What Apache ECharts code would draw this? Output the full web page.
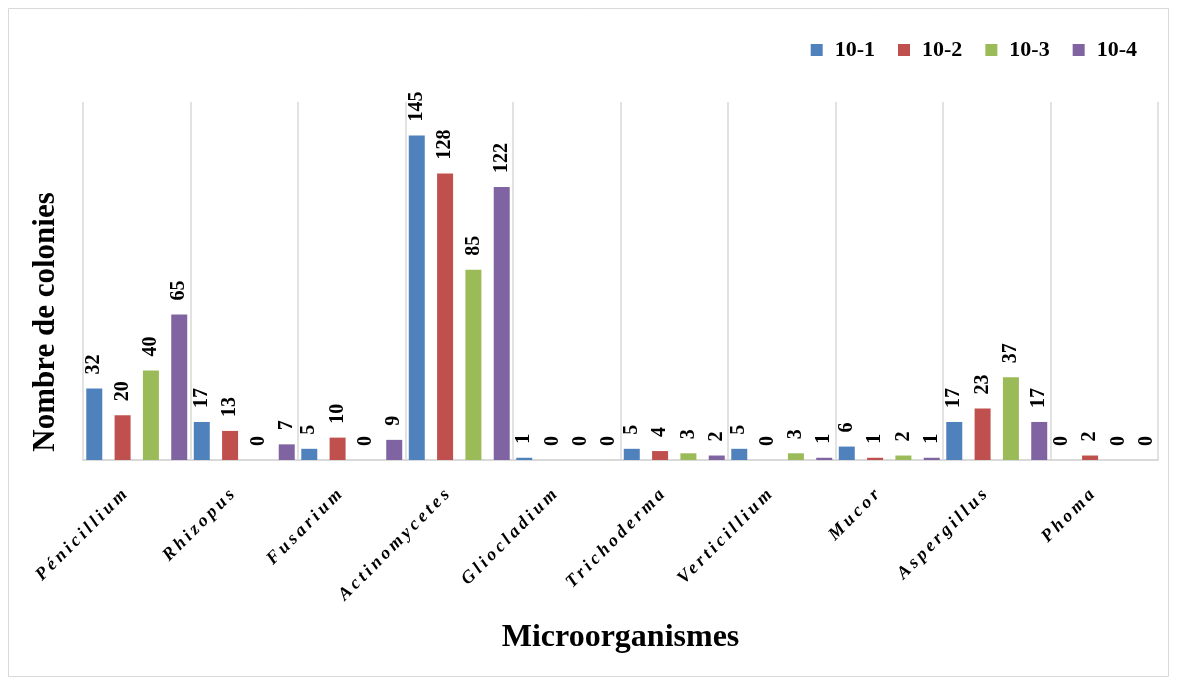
<!DOCTYPE html>
<html>
<head>
<meta charset="utf-8">
<script src="https://cdn.jsdelivr.net/npm/echarts@6/dist/echarts.min.js"></script>
<style>
  html, body { margin: 0; padding: 0; background: #fff; }
  #chart { width: 1178px; height: 682px; }
</style>
</head>
<body>
<div id="chart"></div>
<script>
  // data
  var categories = ['Pénicillium', 'Rhizopus', 'Fusarium', 'Actinomycetes', 'Gliocladium',
    'Trichoderma', 'Verticillium', 'Mucor', 'Aspergillus', 'Phoma'];
  var dilutions = ['10-1', '10-2', '10-3', '10-4'];
  var d1 = [32, 17, 5, 145, 1, 5, 5, 6, 17, 0];
  var d2 = [20, 13, 10, 128, 0, 4, 0, 1, 23, 2];
  var d3 = [40, 0, 0, 85, 0, 3, 3, 2, 37, 0];
  var d4 = [65, 7, 9, 122, 0, 2, 1, 1, 17, 0];
  var colors = ['#4F81BD', '#C0504D', '#9BBB59', '#8064A2'];

  // the italic category names are letter-spaced in the original
  var nativeFillText = CanvasRenderingContext2D.prototype.fillText;
  CanvasRenderingContext2D.prototype.fillText = function (text, x, y, maxWidth) {
    var spaced = this.font.indexOf('italic') >= 0;
    if (spaced) this.letterSpacing = '3.5px';
    if (maxWidth === undefined) nativeFillText.call(this, text, x, y);
    else nativeFillText.call(this, text, x, y, maxWidth);
    if (spaced) this.letterSpacing = '0px';
  };

  var font = '"Liberation Serif", "Times New Roman", serif';
  var chart = echarts.init(document.getElementById('chart'));

  function makeSeries(name, values, i) {
    return {
      name: name,
      type: 'bar',
      data: values,
      barWidth: 16,
      barGap: '77%',
      itemStyle: { color: colors[i] },
      label: {
        show: true,
        position: 'top',
        rotate: 90,
        align: 'left',
        verticalAlign: 'middle',
        distance: 14,
        color: '#000',
        fontFamily: font,
        fontWeight: 'bold',
        fontSize: 20
      }
    };
  }

  var option = {
    animation: false,
    backgroundColor: '#fff',
    color: colors,
    graphic: [
      {
        type: 'rect',
        shape: { x: 8.5, y: 8.5, width: 1160, height: 668 },
        style: { fill: 'none', stroke: '#d9d9d9', lineWidth: 1 },
        silent: true
      },
      {
        type: 'text',
        x: 46,
        y: 322,
        rotation: Math.PI / 2,
        style: {
          text: 'Nombre de colonies',
          fontFamily: font,
          fontWeight: 'bold',
          fontSize: 31,
          fill: '#000',
          align: 'center',
          verticalAlign: 'middle'
        }
      }
    ],
    legend: {
      data: dilutions,
      right: 36,
      top: 34,
      icon: 'rect',
      itemWidth: 12,
      itemHeight: 12,
      itemGap: 23,
      textStyle: {
        fontFamily: font,
        fontWeight: 'bold',
        fontSize: 22,
        color: '#000',
        padding: [0, 0, 0, 7]
      }
    },
    grid: {
      left: 83,
      right: 20,
      top: 102,
      bottom: 222,
      containLabel: false
    },
    xAxis: {
      type: 'category',
      data: categories,
      name: 'Microorganismes',
      nameLocation: 'middle',
      nameGap: 162,
      nameTextStyle: {
        fontFamily: font,
        fontWeight: 'bold',
        fontSize: 32,
        color: '#000'
      },
      axisLine: { lineStyle: { color: '#d9d9d9', width: 2 } },
      axisTick: { show: false },
      splitLine: { show: true, lineStyle: { color: '#d9d9d9', width: 1.5 } },
      axisLabel: {
        interval: 0,
        rotate: 45,
        margin: 20,
        padding: [0, 14, 0, 0],
        color: '#000',
        fontFamily: font,
        fontStyle: 'italic',
        fontWeight: 'bold',
        fontSize: 18
      }
    },
    yAxis: {
      type: 'value',
      min: 0,
      max: 160,
      interval: 20,
      axisLine: { show: false },
      axisTick: { show: false },
      axisLabel: { show: false },
      splitLine: { show: false }
    },
    series: [
      makeSeries(dilutions[0], d1, 0),
      makeSeries(dilutions[1], d2, 1),
      makeSeries(dilutions[2], d3, 2),
      makeSeries(dilutions[3], d4, 3)
    ]
  };

  chart.setOption(option);
</script>
</body>
</html>
